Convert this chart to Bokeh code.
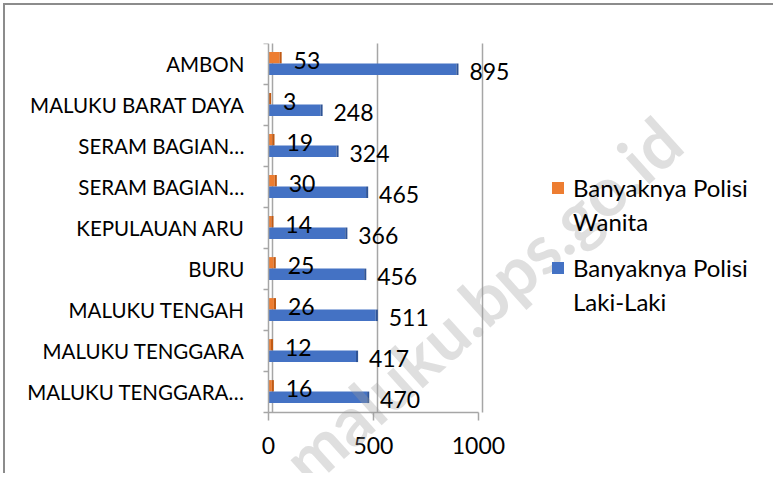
import math
from bokeh.plotting import figure
from bokeh.models import (Range1d, FixedTicker, Legend, LegendItem, Label,
                          LabelSet, ColumnDataSource)
from bokeh.embed import file_html
from bokeh.resources import INLINE
from bokeh.core.properties import value

# ---- data (top to bottom as in the chart) ----
regions = ["AMBON", "MALUKU BARAT DAYA", "SERAM BAGIAN…", "SERAM BAGIAN…",
           "KEPULAUAN ARU", "BURU", "MALUKU TENGAH", "MALUKU TENGGARA",
           "MALUKU TENGGARA…"]
polisi_wanita = [53, 3, 19, 30, 14, 25, 26, 12, 16]
polisi_laki = [895, 248, 324, 465, 366, 456, 511, 417, 470]
x_ticks = [0, 500, 1000]
series_names = ["Banyaknya Polisi\nWanita", "Banyaknya Polisi\nLaki-Laki"]
watermark = "maluku.bps.go.id"

FONT = "Lato"
ORANGE, ORANGE_D = "#ED7D31", "#C05A14"
BLUE, BLUE_D = "#4472C4", "#2F5496"
GRID = "#A6A6A6"
DEPTH = 19  # 3-D back-wall offset of the gridlines (style)

n = len(regions)
pos = [n - i for i in range(n)]  # AMBON at top
y_w = [p_ + 0.15 for p_ in pos]
y_l = [p_ - 0.13 for p_ in pos]

src = ColumnDataSource(dict(
    y_w=y_w, y_l=y_l, w=polisi_wanita, l=polisi_laki,
    w_end=[v + 10 for v in polisi_wanita], l_end=[v + 10 for v in polisi_laki],
    yt_w=[p_ + 0.09 for p_ in pos], yt_l=[p_ - 0.18 for p_ in pos],
    tw=[str(v) for v in polisi_wanita], tl=[str(v) for v in polisi_laki],
))

W, H = 770, 470
p = figure(width=W, height=H, output_backend="svg", toolbar_location=None,
           x_range=Range1d(-1252, 2367), y_range=Range1d(-1.037, n + 0.5),
           min_border_left=0, min_border_right=10, min_border_top=38,
           min_border_bottom=0)
p.outline_line_color = None
p.background_fill_color = "white"
p.border_fill_color = "white"

# watermark
p.add_layout(Label(x=1014, y=3.25, text=watermark, angle=math.radians(42),
                   text_align="center", text_baseline="middle",
                   text_font=FONT, text_font_size="68px",
                   text_font_style="bold", text_color="#9a9a9a",
                   text_alpha=0.32))

rw = p.hbar(y="y_w", left=0, right="w", height=0.28, source=src,
            fill_color=ORANGE, line_color=None)
p.hbar(y="y_w", left="w", right="w_end", height=0.28, source=src,
       fill_color=ORANGE_D, line_color=None)
rl = p.hbar(y="y_l", left=0, right="l", height=0.28, source=src,
            fill_color=BLUE, line_color=None)
p.hbar(y="y_l", left="l", right="l_end", height=0.28, source=src,
       fill_color=BLUE_D, line_color=None)
blank = p.hbar(y=[], left=[], right=[], height=0.28, fill_alpha=0, line_alpha=0)

p.add_layout(LabelSet(x="w", y="yt_w", text="tw", source=src, x_offset=14,
                      text_align="left", text_baseline="middle",
                      text_font=value(FONT), text_font_size=value("23px"),
                      text_color="black"))
p.add_layout(LabelSet(x="l", y="yt_l", text="tl", source=src, x_offset=13,
                      text_align="left", text_baseline="middle",
                      text_font=value(FONT), text_font_size=value("23px"),
                      text_color="black"))

# axes (anchored inside the frame so the watermark can span the whole canvas)
xa = p.xaxis[0]
xa.fixed_location = 0.5
xa.ticker = FixedTicker(ticks=x_ticks)
xa.bounds = (0, 1000)
xa.axis_line_color = GRID
xa.axis_line_width = 1.5
xa.major_tick_line_color = GRID
xa.major_tick_line_width = 1.5
xa.major_tick_in = 0
xa.major_tick_out = 8
xa.minor_tick_line_color = None
xa.major_label_standoff = 17
xa.major_label_text_font = FONT
xa.major_label_text_font_size = "23px"
xa.major_label_text_color = "black"

ya = p.yaxis[0]
ya.fixed_location = 0
ya.bounds = (0.5, n + 0.5)
ya.ticker = FixedTicker(ticks=pos, minor_ticks=[k + 0.5 for k in range(n + 1)])
ya.major_label_overrides = {pp: r for pp, r in zip(pos, regions)}
ya.axis_line_color = GRID
ya.axis_line_width = 1.5
ya.major_tick_line_color = None
ya.major_tick_out = 0
ya.major_tick_in = 0
ya.minor_tick_line_color = GRID
ya.minor_tick_line_width = 1.5
ya.minor_tick_out = 5
ya.minor_tick_in = 0
ya.major_label_standoff = 19
ya.major_label_text_font = FONT
ya.major_label_text_font_size = "20.5px"
ya.major_label_text_color = "black"

grid_ticks = [t + DEPTH for t in x_ticks]
p.xgrid.ticker = FixedTicker(ticks=grid_ticks)
p.xgrid.grid_line_color = GRID
p.xgrid.grid_line_width = 1.5
p.ygrid.grid_line_color = None
try:
    p.xgrid.cross_bounds = (0.5, n + 0.55)
except Exception:
    p.xgrid.grid_line_color = None
    p.segment(x0=grid_ticks, x1=grid_ticks, y0=0.5, y1=n + 0.55,
              line_color=GRID, line_width=1.5)

# legends: one per series, first line beside the swatch, second line below
def make_legend(name, renderer, loc):
    first, second = name.split("\n")
    return Legend(items=[LegendItem(label=first, renderers=[renderer]),
                         LegendItem(label=second, renderers=[blank])],
                  location=loc, padding=0, margin=0,
                  border_line_color=None, background_fill_alpha=0,
                  glyph_width=15, glyph_height=15, label_standoff=8, spacing=5,
                  label_text_font=FONT, label_text_font_size="24px",
                  label_text_color="black")

p.add_layout(make_legend(series_names[0], rw, (545, 239)), "center")
p.add_layout(make_legend(series_names[1], rl, (545, 159)), "center")

p.styles = {"border-top": "2px solid #8C8C8C", "border-left": "2px solid #8C8C8C",
            "margin-left": "3px", "margin-top": "3px"}

open("out.html", "w").write(file_html(p, INLINE))
